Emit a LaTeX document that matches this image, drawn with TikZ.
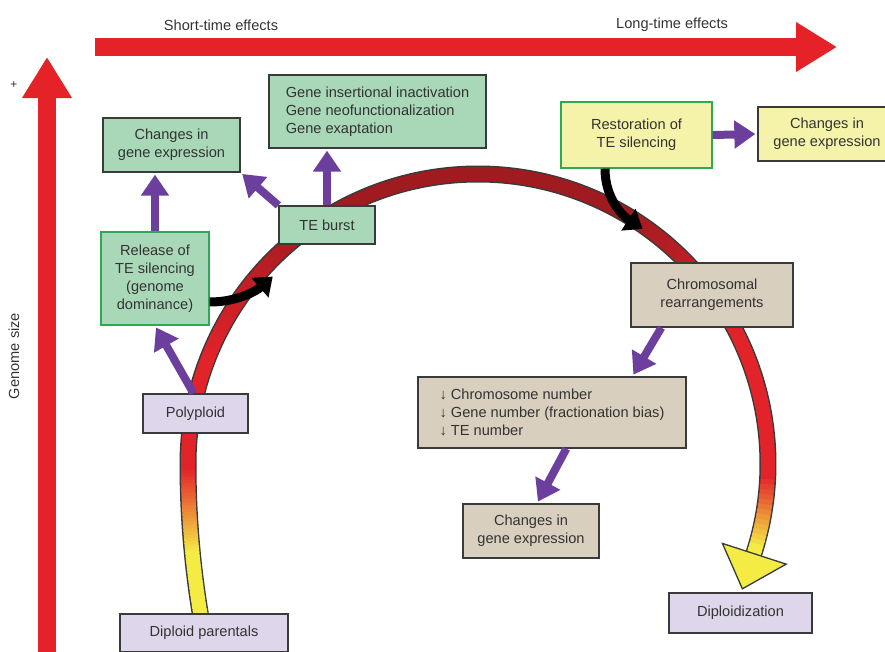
\documentclass[tikz,border=0pt]{standalone}
\usepackage{fontspec}
\setmainfont{Liberation Sans}
\usetikzlibrary{arrows.meta,calc,positioning}

\definecolor{brred}{HTML}{E3232A}
\definecolor{dkred}{HTML}{A01B20}
\definecolor{ylw}{HTML}{F4EC45}
\definecolor{axred}{HTML}{E52228}
\definecolor{purp}{HTML}{6C3F9E}
\definecolor{grnfill}{HTML}{A9D8B8}
\definecolor{grnline}{HTML}{2EAA55}
\definecolor{ylwfill}{HTML}{F5F3A9}
\definecolor{tanfill}{HTML}{D8CFBE}
\definecolor{lavfill}{HTML}{DED6EA}
\definecolor{edge}{HTML}{3A3A3A}
\definecolor{txt}{HTML}{333333}

\tikzset{
  box/.style={draw=edge, line width=1.3pt, inner sep=0pt, align=center},
  greenbox/.style={box, fill=grnfill},
  silencebox/.style={box, draw=grnline, fill=grnfill},
  restorebox/.style={box, draw=grnline, fill=ylwfill},
  yellowbox/.style={box, fill=ylwfill},
  tanbox/.style={box, fill=tanfill},
  lilacbox/.style={box, fill=lavfill},
  purparrow/.style={purp, line width=8pt, shorten >=2pt, -{Triangle[width=27pt,length=21pt]}},
  blackarrow/.style={black, line width=9pt, -{Triangle[width=25pt,length=17pt]}},
  axisarrow/.style={axred, line width=18pt, -{Triangle[width=47pt,length=41pt]}}
}

\begin{document}
\begin{tikzpicture}[x=1pt, y=-1pt, every node/.style={text=txt, font=\fontsize{14.6}{18}\selectfont}]
\useasboundingbox (0,0) rectangle (885,651);

% Axes
\coordinate (xfrom) at (95,47);
\coordinate (xto) at (837,47);
\coordinate (yfrom) at (47,655);
\coordinate (yto) at (47,57);
\draw[axisarrow] (xfrom) -- (xto);
\draw[axisarrow] (yfrom) -- (yto);
\node (shortlbl) at (221,25) {Short-time effects};
\node (longlbl) at (672,25) {Long-time effects};
\node[font=\fontsize{12}{14}\selectfont] (plus) at (14,85) {+};
\node[rotate=90] (gsize) at (14,356) {Genome size};

% Curve
\coordinate (C) at (478,464);
\coordinate (T) at (1107,464);
\draw[edge, line width=17pt] ($(T)+(166:919)$) arc (166:180:919) arc (180:378.5:290);
\foreach \a in {166,166.2,...,179.8} {
  \pgfmathsetmacro\ky{int(100*min(max((179.6-\a)/5.2,0),1))}
  \draw[ylw!\ky!brred, line width=14pt] ($(T)+(\a:919)$) arc (\a:\a+0.3:919);
}
\foreach \a in {180,181,...,377} {
  \pgfmathsetmacro\kd{int(100*min(max(min(\a-200,335-\a)/35,0),1))}
  \pgfmathsetmacro\ky{int(100*min(max((\a-362)/14,0),1))}
  \colorlet{segc}{dkred!\kd!brred}
  \draw[ylw!\ky!segc, line width=14pt] ($(C)+(\a:290)$) arc (\a:\a+1.4:290);
}
\coordinate (HB) at ($(C)+(378:290)$);
\filldraw[fill=ylw, draw=edge, line width=1.3pt] ($(C)+(378:257)$) -- ($(C)+(378:324)$) -- ($(HB)+(468:37)$) -- cycle;

% Boxes
\node[greenbox, minimum width=137pt, minimum height=54pt] (Chg1) at (171.5,145) {Changes in\\gene expression};
\node[greenbox, minimum width=217pt, minimum height=73pt, align=left] (GeneFx) at (377.5,111.5) {Gene insertional inactivation\\Gene neofunctionalization\\Gene exaptation};
\node[greenbox, minimum width=96pt, minimum height=38pt] (TEb) at (327,225) {TE burst};
\node[silencebox, minimum width=108pt, minimum height=93pt] (Release) at (155,278.5) {Release of\\TE silencing\\(genome\\dominance)};
\node[lilacbox, minimum width=105pt, minimum height=39pt] (Poly) at (195.5,413.5) {Polyploid};
\node[lilacbox, minimum width=168pt, minimum height=38pt] (Diploid) at (204,633) {Diploid parentals};
\node[restorebox, minimum width=151pt, minimum height=66pt] (Restore) at (636.5,135) {Restoration of\\TE silencing};
\node[yellowbox, minimum width=138pt, minimum height=54pt] (Chg2) at (827,134) {Changes in\\gene expression};
\node[tanbox, minimum width=162pt, minimum height=64pt] (Chrom) at (712,295) {Chromosomal\\rearrangements};
\node[tanbox, minimum width=268pt, minimum height=71pt, align=left] (Counts) at (552,412.5) {↓ Chromosome number\\↓ Gene number (fractionation bias)\\↓ TE number};
\node[tanbox, minimum width=136pt, minimum height=54pt] (Chg3) at (531,531) {Changes in\\gene expression};
\node[lilacbox, minimum width=143pt, minimum height=40pt] (Diploidz) at (740.5,613) {Diploidization};

% Purple arrows
\draw[purparrow] (Release.north) -- (Release.north |- Chg1.south);
\draw[purparrow] (TEb.north west) -- (Chg1.south east);
\draw[purparrow] (TEb.north) -- (TEb.north |- GeneFx.south);
\draw[purparrow] ([xshift=-2pt]Poly.north) -- (Release.south);
\draw[purparrow] (Restore.east) -- (Chg2.west);
\draw[purparrow] ([xshift=31pt]Chrom.south west) -- ([xshift=215pt]Counts.north west);
\draw[purparrow] ([xshift=149pt]Counts.south west) -- ([xshift=6pt]Chg3.north);

% Black arrows
\coordinate (hit1) at ($(C)+(222.4:278)$);
\coordinate (hit2) at ($(C)+(305:287)$);
\draw[blackarrow] ([yshift=-23.5pt]Release.east) .. controls +(28,0) and +(-16,14) .. (hit1);
\draw[blackarrow] ([xshift=-31.5pt]Restore.south) .. controls +(0,30) and +(-20,-13) .. (hit2);
\end{tikzpicture}
\end{document}
